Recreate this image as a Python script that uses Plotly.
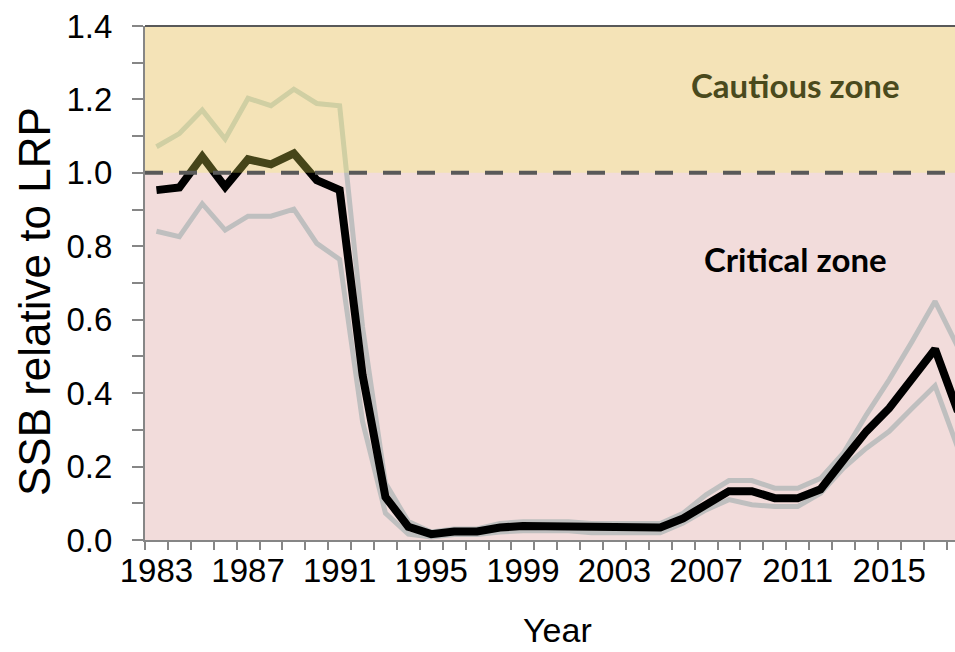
import plotly.graph_objects as go

# ---- data ----
years = list(range(1983, 2019))
ssb = [0.953, 0.960, 1.044, 0.962, 1.037, 1.023, 1.053, 0.980, 0.953,
       0.45, 0.117, 0.036, 0.016,
       0.023, 0.023, 0.034, 0.038, 0.038, 0.038, 0.034, 0.034, 0.034, 0.034,
       0.059, 0.095, 0.133, 0.133, 0.114, 0.114, 0.138, 0.218, 0.296, 0.359,
       0.441, 0.520, 0.35]
ssb_upper = [1.071, 1.107, 1.171, 1.092, 1.203, 1.183, 1.228, 1.189, 1.183,
             0.58, 0.155, 0.05, 0.022,
             0.03, 0.03, 0.045, 0.05, 0.05, 0.05, 0.045, 0.045, 0.045, 0.045,
             0.073, 0.123, 0.162, 0.162, 0.141, 0.141, 0.168, 0.237, 0.341, 0.437,
             0.541, 0.650, 0.525]
ssb_lower = [0.841, 0.826, 0.916, 0.844, 0.882, 0.882, 0.901, 0.808, 0.764,
             0.323, 0.073, 0.016, 0.008,
             0.015, 0.015, 0.022, 0.025, 0.025, 0.025, 0.02, 0.02, 0.02, 0.02,
             0.046, 0.082, 0.11, 0.096, 0.091, 0.091, 0.127, 0.196, 0.250, 0.296,
             0.359, 0.420, 0.25]
x_tick_years = [1983, 1987, 1991, 1995, 1999, 2003, 2007, 2011, 2015]
x_tick_labels = [str(y) for y in x_tick_years]
lrp = 1.0
y_max = 1.4

AX = "#868686"
FONT = "Liberation Sans, Arial, sans-serif"
ZFONT = "Lato, Carlito, Calibri, sans-serif"

fig = go.Figure()
fig.add_trace(go.Scatter(x=years, y=ssb_lower, mode="lines",
                         line=dict(color="#BFBFBF", width=5), hoverinfo="skip"))
fig.add_trace(go.Scatter(x=years, y=ssb_upper, mode="lines",
                         line=dict(color="#BFBFBF", width=5), hoverinfo="skip"))
fig.add_trace(go.Scatter(x=years, y=ssb, mode="lines",
                         line=dict(color="#000000", width=8), hoverinfo="skip"))

# zones: pink base everywhere, translucent yellow laid over the cautious zone
fig.add_shape(type="rect", xref="paper", yref="y", x0=0, x1=1, y0=0, y1=y_max,
              fillcolor="#F2DCDB", line_width=0, layer="below")
fig.add_shape(type="rect", xref="paper", yref="y", x0=0, x1=1, y0=lrp, y1=y_max,
              fillcolor="rgba(250,248,90,0.28)", line_width=0, layer="above")
fig.add_shape(type="line", xref="paper", yref="y", x0=0, x1=1, y0=lrp, y1=lrp,
              line=dict(color="#595959", width=4, dash="18px,16px"), layer="above")
fig.add_shape(type="line", xref="paper", yref="paper", x0=0, x1=1, y0=1, y1=1,
              line=dict(color="#595959", width=2), layer="above")

# zone labels
fig.add_annotation(text="<b>Cautious zone</b>", xref="paper", yref="paper",
                   x=0.803, y=0.885, xanchor="center", yanchor="middle", showarrow=False,
                   font=dict(family=ZFONT, size=33, color="#4A4A1D"))
fig.add_annotation(text="<b>Critical zone</b>", xref="paper", yref="paper",
                   x=0.8037, y=0.546, xanchor="center", yanchor="middle", showarrow=False,
                   font=dict(family=ZFONT, size=33, color="#000000"))
# axis titles
fig.add_annotation(text="Year", xref="paper", yref="paper", x=0.509, y=-0.2165,
                   xanchor="center", yanchor="bottom",
                   showarrow=False, font=dict(family=FONT, size=34, color="#000000"))
fig.add_annotation(text="SSB relative to LRP", xref="paper", yref="paper",
                   x=-0.137, y=0.463, xanchor="center", yanchor="middle",
                   textangle=-90, showarrow=False,
                   font=dict(family=FONT, size=44, color="#000000"))

px_per_year = 22.9
fig.update_xaxes(range=[years[0] - 0.5, years[0] - 0.5 + 810 / px_per_year],
                 tickmode="array", tickvals=x_tick_years, ticktext=x_tick_labels,
                 ticks="", showgrid=False, zeroline=False, automargin=False,
                 showline=True, linecolor=AX, linewidth=2,
                 minor=dict(ticks="outside", tickmode="linear", tick0=years[0] - 0.5,
                            dtick=1, ticklen=8, tickwidth=2, tickcolor=AX,
                            showgrid=False),
                 tickfont=dict(family=FONT, size=33, color="#000000"))
fig.update_yaxes(range=[0, y_max], tickmode="linear", tick0=0, dtick=0.2,
                 tickformat=".1f", ticks="outside", ticklen=11, tickwidth=2,
                 tickcolor=AX, showgrid=False, zeroline=False, automargin=False,
                 showline=True, linecolor=AX, linewidth=2, ticklabelstandoff=13,
                 minor=dict(ticks="outside", tickmode="linear", tick0=0, dtick=0.1,
                            ticklen=11, tickwidth=2, tickcolor=AX, showgrid=False),
                 tickfont=dict(family=FONT, size=33, color="#000000"))

fig.update_layout(width=955, height=652, showlegend=False,
                  margin=dict(l=145, r=0, t=26, b=112, autoexpand=False),
                  paper_bgcolor="white", plot_bgcolor="white")

fig.write_html("out.html", config={"displayModeBar": False},
               post_script="document.body.style.margin='0';"
                           "document.body.style.overflow='hidden';")
